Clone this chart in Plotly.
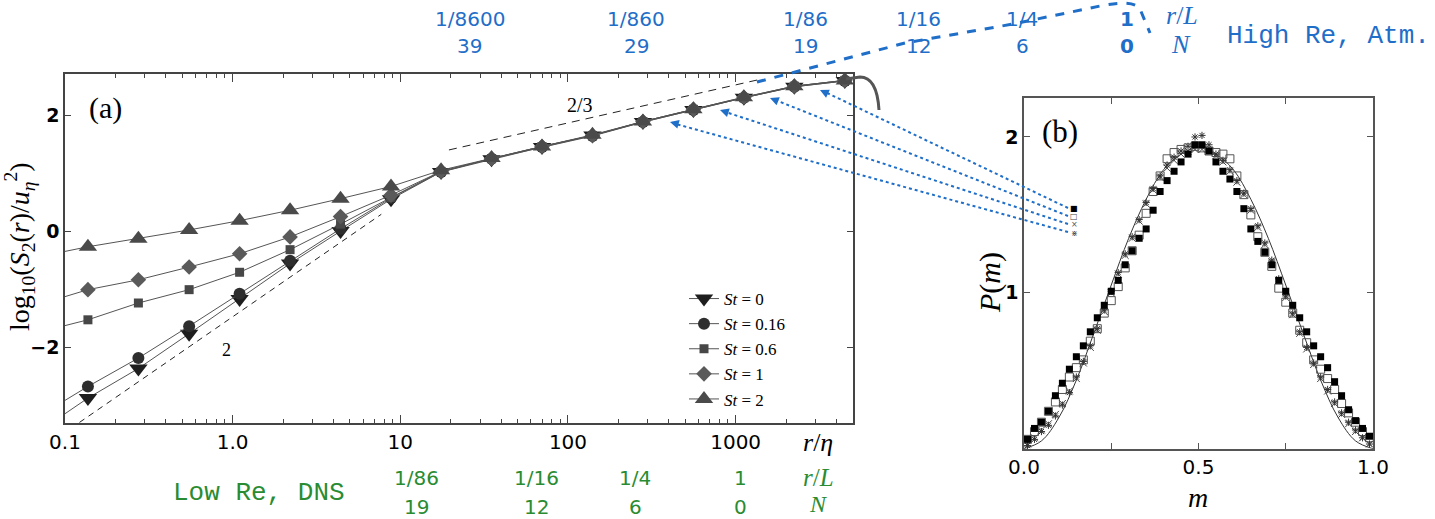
import plotly.graph_objects as go

W, H = 1435, 519
def px(x): return x / W
def py(y): return 1 - y / H

SANS = "DejaVu Sans"
SERIF = "Liberation Serif"
MONO = "Liberation Mono"
BLUE = "#1f6ec8"
GREEN = "#2a8c32"

# ---------------- panel (a) data ----------------
r_eta = [0.137, 0.274, 0.55, 1.1, 2.2, 4.4, 8.8, 17.5, 35, 70, 140, 280, 560, 1120, 2240, 4480]
st_labels = ["0", "0.16", "0.6", "1", "2"]
s2_st0   = [-2.88, -2.37, -1.77, -1.17, -0.56, 0.00, 0.55, 1.02, 1.24, 1.45, 1.65, 1.88, 2.09, 2.30, 2.49, 2.59]
s2_st016 = [-2.68, -2.19, -1.64, -1.08, -0.51, 0.04, 0.57, 1.02, 1.25, 1.45, 1.64, 1.88, 2.09, 2.30, 2.49, 2.59]
s2_st06  = [-1.53, -1.24, -1.01, -0.71, -0.32, 0.12, 0.58, 1.03, 1.25, 1.46, 1.65, 1.89, 2.10, 2.30, 2.50, 2.60]
s2_st1   = [-1.01, -0.84, -0.62, -0.39, -0.10, 0.25, 0.62, 1.03, 1.25, 1.46, 1.65, 1.89, 2.10, 2.31, 2.50, 2.60]
s2_st2   = [-0.27, -0.13, 0.02, 0.18, 0.36, 0.56, 0.77, 1.05, 1.26, 1.46, 1.66, 1.89, 2.10, 2.31, 2.50, 2.60]
# line values where each curve meets the left frame (r/eta = 0.1)
edge_x = 0.1
edge_y = [-3.15, -2.92, -1.63, -1.13, -0.35]
# guide lines (slope 2 and slope 2/3)
slope2_x = [0.122, 7.7]
slope2_y = [-3.30, 0.29]
slope23_x = [19.5, 1410]
slope23_y = [1.40, 2.62]

# ---------------- panel (b) data ----------------
m_bins = [0.01, 0.03, 0.05, 0.07, 0.09, 0.11, 0.13, 0.15, 0.17, 0.19,
          0.21, 0.23, 0.25, 0.27, 0.29, 0.31, 0.33, 0.35, 0.37, 0.39,
          0.41, 0.43, 0.45, 0.47, 0.49, 0.51, 0.53, 0.55, 0.57, 0.59,
          0.61, 0.63, 0.65, 0.67, 0.69, 0.71, 0.73, 0.75, 0.77, 0.79,
          0.81, 0.83, 0.85, 0.87, 0.89, 0.91, 0.93, 0.95, 0.97, 0.99]
p_filled = [0.06, 0.13, 0.17, 0.24, 0.34, 0.42, 0.51, 0.59, 0.66, 0.75,
            0.84, 0.92, 1.01, 1.08, 1.18, 1.27, 1.35, 1.41, 1.53, 1.65,
            1.72, 1.78, 1.84, 1.89, 1.95, 1.95, 1.91, 1.84, 1.78, 1.73,
            1.65, 1.54, 1.41, 1.33, 1.26, 1.18, 1.08, 1.01, 0.92, 0.84,
            0.75, 0.66, 0.59, 0.52, 0.43, 0.34, 0.25, 0.18, 0.13, 0.08]
p_open = [0.06, 0.11, 0.17, 0.24, 0.30, 0.38, 0.46, 0.52, 0.57, 0.69,
          0.77, 0.87, 0.95, 1.04, 1.16, 1.27, 1.37, 1.51, 1.65, 1.75,
          1.86, 1.90, 1.92, 1.93, 1.94, 1.93, 1.91, 1.90, 1.89, 1.86,
          1.75, 1.63, 1.50, 1.36, 1.26, 1.17, 1.03, 0.94, 0.87, 0.76,
          0.68, 0.57, 0.51, 0.45, 0.38, 0.29, 0.23, 0.17, 0.11, 0.07]
p_cross = [0.03, 0.07, 0.12, 0.16, 0.22, 0.29, 0.37, 0.45, 0.55, 0.65,
           0.76, 0.88, 1.00, 1.12, 1.24, 1.35, 1.46, 1.57, 1.66, 1.74,
           1.80, 1.85, 1.89, 1.91, 1.92, 1.92, 1.91, 1.88, 1.84, 1.78,
           1.71, 1.63, 1.53, 1.42, 1.31, 1.20, 1.08, 0.97, 0.86, 0.74,
           0.64, 0.54, 0.45, 0.37, 0.29, 0.22, 0.16, 0.11, 0.07, 0.03]
p_star = [0.02, 0.06, 0.11, 0.15, 0.21, 0.28, 0.36, 0.46, 0.56, 0.66,
          0.77, 0.89, 1.01, 1.13, 1.25, 1.36, 1.47, 1.58, 1.67, 1.75,
          1.82, 1.87, 1.91, 1.94, 2.00, 2.01, 1.95, 1.89, 1.85, 1.79,
          1.72, 1.64, 1.54, 1.43, 1.32, 1.21, 1.09, 0.98, 0.87, 0.75,
          0.65, 0.55, 0.46, 0.38, 0.30, 0.23, 0.17, 0.12, 0.07, 0.03]
curve_m = [0, 0.05, 0.1, 0.15, 0.2, 0.25, 0.3, 0.35, 0.4, 0.45, 0.5,
           0.55, 0.6, 0.65, 0.7, 0.75, 0.8, 0.85, 0.9, 0.95, 1.0]
curve_p = [0, 0.05, 0.20, 0.44, 0.74, 1.05, 1.35, 1.60, 1.79, 1.89, 1.93,
           1.89, 1.79, 1.60, 1.35, 1.05, 0.74, 0.44, 0.20, 0.05, 0]

# scale annotations
top_rl = ["1/8600", "1/860", "1/86", "1/16", "1/4", "<b>1</b>"]
top_n = ["39", "29", "19", "12", "6", "<b>0</b>"]
bot_rl = ["1/86", "1/16", "1/4", "1"]
bot_n = ["19", "12", "6", "0"]

fig = go.Figure()

series = [s2_st0, s2_st016, s2_st06, s2_st1, s2_st2]
symbols = ["triangle-down", "circle", "square", "diamond", "triangle-up"]
sizes = [16, 12, 9, 12, 16]
mcolors = ["#1e1e1e", "#2e2e2e", "#474747", "#5a5a5a", "#4a4a4a"]

for i in range(5):
    fig.add_trace(go.Scatter(x=[edge_x, r_eta[0]], y=[edge_y[i], series[i][0]],
                             mode="lines", line=dict(color="#555", width=1),
                             showlegend=False, hoverinfo="skip", xaxis="x", yaxis="y"))

fig.add_trace(go.Scatter(x=slope2_x, y=slope2_y, mode="lines",
                         line=dict(color="#222", width=1, dash="6px,5px"),
                         showlegend=False, xaxis="x", yaxis="y"))
fig.add_trace(go.Scatter(x=slope23_x, y=slope23_y, mode="lines",
                         line=dict(color="#222", width=1, dash="8px,6px"),
                         showlegend=False, xaxis="x", yaxis="y"))

for i in range(5):
    fig.add_trace(go.Scatter(
        x=r_eta, y=series[i], mode="lines+markers",
        name="<i>St</i> = " + st_labels[i],
        line=dict(color="#555", width=1),
        marker=dict(symbol=symbols[i], size=sizes[i], color=mcolors[i],
                    line=dict(width=0)),
        cliponaxis=False, xaxis="x", yaxis="y"))

fig.add_trace(go.Scatter(x=curve_m, y=curve_p, mode="lines", line_shape="spline",
                         line=dict(color="#333", width=1), showlegend=False,
                         xaxis="x2", yaxis="y2"))
fig.add_trace(go.Scatter(x=m_bins, y=p_open, mode="markers", showlegend=False,
                         marker=dict(symbol="square-open", size=8, color="#555",
                                     line=dict(width=1)),
                         cliponaxis=False, xaxis="x2", yaxis="y2"))
fig.add_trace(go.Scatter(x=m_bins, y=p_cross, mode="markers", showlegend=False,
                         marker=dict(symbol="x-thin-open", size=7, color="#444",
                                     line=dict(width=1, color="#444")),
                         cliponaxis=False, xaxis="x2", yaxis="y2"))
fig.add_trace(go.Scatter(x=m_bins, y=p_star, mode="markers", showlegend=False,
                         marker=dict(symbol="asterisk-open", size=6, color="#333",
                                     line=dict(width=1, color="#333")),
                         cliponaxis=False, xaxis="x2", yaxis="y2"))
fig.add_trace(go.Scatter(x=m_bins, y=p_filled, mode="markers", showlegend=False,
                         marker=dict(symbol="square", size=7, color="#000",
                                     line=dict(width=0)),
                         cliponaxis=False, xaxis="x2", yaxis="y2"))

ann = []
def txt(x, y, s, size, color="#000", family=SANS, **kw):
    ann.append(dict(x=px(x), y=py(y), xref="paper", yref="paper", text=s,
                    showarrow=False, xanchor="center", yanchor="middle",
                    font=dict(size=size, color=color, family=family), **kw))

for xc, a, b in zip([470, 636, 805, 918, 1022, 1127], top_rl, top_n):
    txt(xc, 19, a, 20, BLUE)
    txt(xc, 46, b, 20, BLUE)
txt(1182, 16, "<i>r</i>/<i>L</i>", 26, BLUE, SERIF)
txt(1181, 44, "<i>N</i>", 26, BLUE, SERIF)
txt(1328, 36, "High Re, Atm.", 26, BLUE, MONO)

for xc, a, b in zip([416, 536, 635, 740], bot_rl, bot_n):
    txt(xc, 478, a, 20, GREEN)
    txt(xc, 507, b, 20, GREEN)
txt(818, 477, "<i>r</i>/<i>L</i>", 25, GREEN, SERIF)
txt(818, 504, "<i>N</i>", 24, GREEN, SERIF)
txt(259, 493, "Low Re, DNS", 26, GREEN, MONO)

txt(818, 442, "<i>r</i>/<i>η</i>", 26, "#000", SERIF)
txt(19, 247, "log<sub>10</sub>(<i>S</i><sub>2</sub>(<i>r</i>)/<i>u</i><sub><i>η</i></sub><sup>2</sup>)",
    28, "#000", SERIF, textangle=-90)
txt(105, 108, "(a)", 30, "#000", SERIF)
txt(226, 350, "2", 18, "#000", SERIF)
txt(580, 105, "2/3", 20, "#000", SERIF)
txt(1060, 131, "(b)", 31, "#000", SERIF)
txt(990, 283, "<i>P</i>(<i>m</i>)", 30, "#000", SERIF, textangle=-90)
txt(1198, 497, "<i>m</i>", 28, "#000", SERIF)

for yc, g, c in zip([208, 216.5, 225, 233], ["■", "□", "×", "⋇"],
                    ["#000", "#444", "#555", "#444"]):
    txt(1074, yc, g, 8, c)

shapes = []
tails = [(1068, 208), (1068, 216), (1068, 224), (1068, 232)]
heads = [(820, 90), (770, 98), (720, 110), (670, 122)]
for (tx, ty), (hx, hy) in zip(tails, heads):
    shapes.append(dict(type="line", xref="paper", yref="paper",
                       x0=px(tx), y0=py(ty), x1=px(hx + 4), y1=py(hy + 1.5),
                       line=dict(color=BLUE, width=2, dash="dot")))
    dx, dy = tx - hx, ty - hy
    L = (dx * dx + dy * dy) ** 0.5
    ann.append(dict(x=px(hx), y=py(hy), xref="paper", yref="paper", text="",
                    showarrow=True, ax=dx / L * 9, ay=dy / L * 9,
                    arrowhead=2, arrowsize=1.1, arrowwidth=1.6, arrowcolor=BLUE,
                    standoff=0))

p = ("M {} {} L {} {} L {} {} L {} {} Q {} {} {} {} L {} {}").format(
    px(757), py(82), px(905), py(43), px(1013), py(24), px(1105), py(5),
    px(1134), py(0), px(1140), py(9), px(1150), py(33))
shapes.append(dict(type="path", xref="paper", yref="paper", path=p,
                   line=dict(color=BLUE, width=3, dash="dash")))
p2 = "M {} {} L {} {} Q {} {} {} {}".format(
    px(846), py(79), px(860), py(77), px(877), py(77), px(879), py(110))
shapes.append(dict(type="path", xref="paper", yref="paper", path=p2,
                   line=dict(color="#555", width=3)))

minor_vals = [k * 10 ** e for e in range(-1, 4) for k in range(2, 10)]

fig.update_layout(
    width=W, height=H, margin=dict(l=0, r=0, t=0, b=0, autoexpand=False),
    paper_bgcolor="white", plot_bgcolor="white",
    xaxis=dict(domain=[px(65), px(853)], anchor="y", type="log", range=[-1, 3.70],
               automargin=False,
               tickmode="array", tickvals=[0.1, 1, 10, 100, 1000],
               ticktext=["0.1", "1.0", "10", "100", "1000"],
               ticks="inside", ticklen=8, tickcolor="#444", showgrid=False,
               zeroline=False, showline=True, linecolor="#444", linewidth=1.5,
               mirror="ticks",
               minor=dict(tickmode="array", tickvals=minor_vals, ticks="inside",
                          ticklen=4, tickcolor="#444", showgrid=False),
               tickfont=dict(family=SANS, size=20, color="#000")),
    yaxis=dict(domain=[py(423), py(74)], anchor="x", range=[-3.31, 2.71],
               automargin=False,
               tickmode="array", tickvals=[-2, 0, 2], ticktext=["−2", "0", "2"],
               ticks="inside", ticklen=6, tickcolor="#444", showgrid=False,
               zeroline=False, showline=True, linecolor="#444", linewidth=1.5,
               mirror="ticks",
               tickfont=dict(family=SANS, size=19, color="#000", weight="bold")),
    xaxis2=dict(domain=[px(1024), px(1373)], anchor="y2", range=[0, 1],
                automargin=False,
                tickmode="array", tickvals=[0, 0.25, 0.5, 0.75, 1.0],
                ticktext=["0.0", "", "0.5", "", "1.0"],
                ticks="inside", ticklen=6, tickcolor="#555", showgrid=False,
                zeroline=False, showline=True, linecolor="#555", linewidth=1.5,
                mirror="ticks", tickfont=dict(family=SANS, size=20, color="#000")),
    yaxis2=dict(domain=[py(448.7), py(98)], anchor="x2", range=[0, 2.25],
                automargin=False,
                tickmode="array", tickvals=[1, 2], ticktext=["1", "2"],
                ticks="inside", ticklen=6, tickcolor="#555", showgrid=False,
                zeroline=False, showline=True, linecolor="#555", linewidth=1.5,
                mirror="ticks",
                tickfont=dict(family=SANS, size=19, color="#000", weight="bold")),
    legend=dict(x=px(684), y=py(281), xanchor="left", yanchor="top",
                bgcolor="rgba(0,0,0,0)", borderwidth=0, tracegroupgap=0,
                itemwidth=30, font=dict(family=SERIF, size=17, color="#000")),
    annotations=ann, shapes=shapes,
)

fig.write_html("out.html")
